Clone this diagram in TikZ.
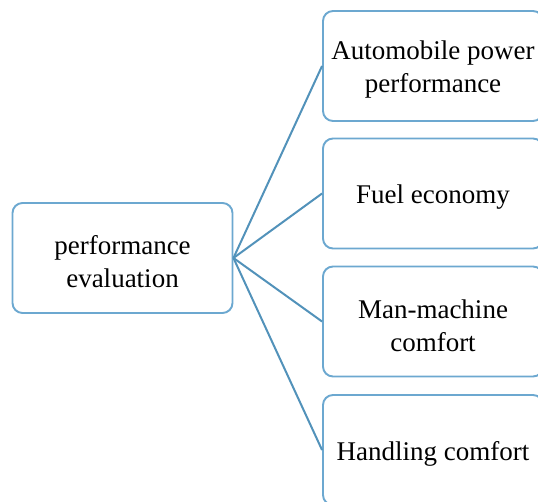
\documentclass[tikz,border=0pt]{standalone}
\usepackage{fontspec}
\setmainfont{Liberation Serif}
\definecolor{boxblue}{RGB}{108,168,208}
\definecolor{linkblue}{RGB}{82,146,186}
\begin{document}
\begin{tikzpicture}[x=1pt,y=-1pt,
  item/.style={draw=boxblue, line width=1.9pt, rounded corners=10pt,
    minimum width=220pt, minimum height=110pt, inner sep=0pt},
  itemtext/.style={inner sep=0pt, align=center, yshift=-4pt,
    font=\fontsize{27}{33}\selectfont, text=black},
  link/.style={draw=linkblue, line width=2pt}]
\useasboundingbox (0,0) rectangle (538,502);
\clip (0,0) rectangle (538,502);
% root and its four aspects
\node[item, label={[itemtext]center:{performance\\evaluation}}] (root) at (122.5,258) {};
\node[item, label={[itemtext]center:{Automobile power\\performance}}] (power) at (433,66) {};
\node[item, label={[itemtext]center:{Fuel economy}}] (fuel) at (433,193.5) {};
\node[item, label={[itemtext]center:{Man-machine\\comfort}}] (comfort) at (433,321.5) {};
\node[item, label={[itemtext]center:{Handling comfort}}] (handle) at (433,450) {};
% fan of connectors
\foreach \t in {power,fuel,comfort,handle}
  \draw[link] (root.east) -- (\t.west);
\end{tikzpicture}
\end{document}
